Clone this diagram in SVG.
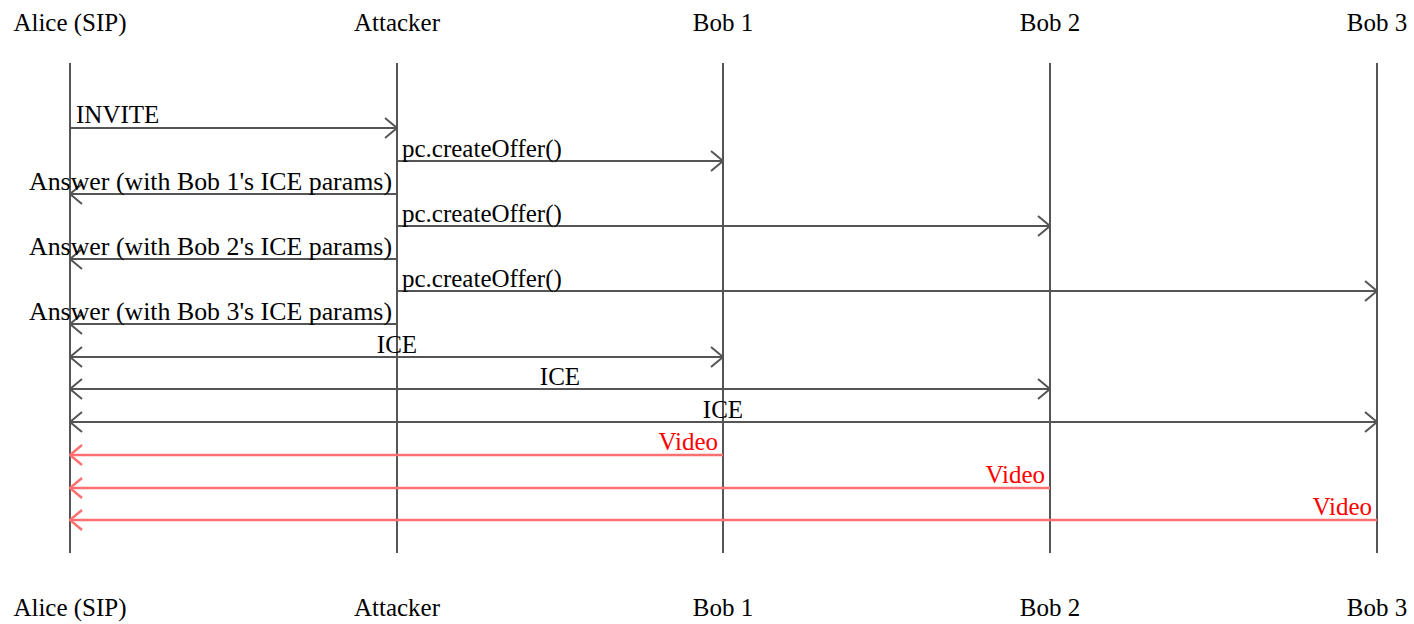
<svg xmlns="http://www.w3.org/2000/svg" width="1414" height="624" viewBox="0 0 1414 624">
<style>
text{font-family:"Liberation Serif","Times New Roman",serif;font-size:25px;fill:#000}
.life{stroke:#555;stroke-width:2}
.msg{stroke:#555;stroke-width:2;fill:none}
.vid{stroke:#ff7070;stroke-width:2.5;fill:none}
.red{fill:#ff0000}
.e{text-anchor:end}
.m{text-anchor:middle}
</style>
<defs>
<marker id="ah" viewBox="0 0 14 22" refX="13" refY="11" markerWidth="14" markerHeight="22" markerUnits="userSpaceOnUse" orient="auto-start-reverse">
<path d="M1,1 L13,11 L1,21" fill="none" stroke="#555" stroke-width="2"/>
</marker>
<marker id="ahr" viewBox="0 0 14 22" refX="13" refY="11" markerWidth="14" markerHeight="22" markerUnits="userSpaceOnUse" orient="auto-start-reverse">
<path d="M1,1 L13,11 L1,21" fill="none" stroke="#ff7070" stroke-width="2.5"/>
</marker>
</defs>
<g id="alice">
<text class="m" x="70" y="31">Alice (SIP)</text>
<line class="life" x1="70" y1="63" x2="70" y2="553"/>
<text class="m" x="70" y="616">Alice (SIP)</text>
</g>
<g id="attacker">
<text class="m" x="397" y="31">Attacker</text>
<line class="life" x1="397" y1="63" x2="397" y2="553"/>
<text class="m" x="397" y="616">Attacker</text>
</g>
<g id="bob1">
<text class="m" x="723" y="31">Bob 1</text>
<line class="life" x1="723" y1="63" x2="723" y2="553"/>
<text class="m" x="723" y="616">Bob 1</text>
</g>
<g id="bob2">
<text class="m" x="1050" y="31">Bob 2</text>
<line class="life" x1="1050" y1="63" x2="1050" y2="553"/>
<text class="m" x="1050" y="616">Bob 2</text>
</g>
<g id="bob3">
<text class="m" x="1377" y="31">Bob 3</text>
<line class="life" x1="1377" y1="63" x2="1377" y2="553"/>
<text class="m" x="1377" y="616">Bob 3</text>
</g>
<g id="connectors">
<line class="msg" x1="70" y1="128" x2="397" y2="128" marker-end="url(#ah)"/>
<text x="76" y="123">INVITE</text>
<line class="msg" x1="397" y1="161" x2="723" y2="161" marker-end="url(#ah)"/>
<text x="402" y="157">pc.createOffer()</text>
<line class="msg" x1="397" y1="194" x2="70" y2="194" marker-end="url(#ah)"/>
<text x="29" y="190" textLength="363" lengthAdjust="spacingAndGlyphs">Answer (with Bob 1's ICE params)</text>
<line class="msg" x1="397" y1="226" x2="1050" y2="226" marker-end="url(#ah)"/>
<text x="402" y="222">pc.createOffer()</text>
<line class="msg" x1="397" y1="259" x2="70" y2="259" marker-end="url(#ah)"/>
<text x="29" y="255" textLength="363" lengthAdjust="spacingAndGlyphs">Answer (with Bob 2's ICE params)</text>
<line class="msg" x1="397" y1="291" x2="1377" y2="291" marker-end="url(#ah)"/>
<text x="402" y="287">pc.createOffer()</text>
<line class="msg" x1="397" y1="324" x2="70" y2="324" marker-end="url(#ah)"/>
<text x="29" y="320" textLength="363" lengthAdjust="spacingAndGlyphs">Answer (with Bob 3's ICE params)</text>
<line class="msg" x1="70" y1="357" x2="723" y2="357" marker-start="url(#ah)" marker-end="url(#ah)"/>
<text class="m" x="397" y="353">ICE</text>
<line class="msg" x1="70" y1="389" x2="1050" y2="389" marker-start="url(#ah)" marker-end="url(#ah)"/>
<text class="m" x="560" y="385">ICE</text>
<line class="msg" x1="70" y1="422" x2="1377" y2="422" marker-start="url(#ah)" marker-end="url(#ah)"/>
<text class="m" x="723" y="418">ICE</text>
<line class="vid" x1="723" y1="455" x2="70" y2="455" marker-end="url(#ahr)"/>
<text class="e red" x="718" y="450">Video</text>
<line class="vid" x1="1050" y1="488" x2="70" y2="488" marker-end="url(#ahr)"/>
<text class="e red" x="1045" y="483">Video</text>
<line class="vid" x1="1377" y1="520" x2="70" y2="520" marker-end="url(#ahr)"/>
<text class="e red" x="1372" y="515">Video</text>
</g>
</svg>
